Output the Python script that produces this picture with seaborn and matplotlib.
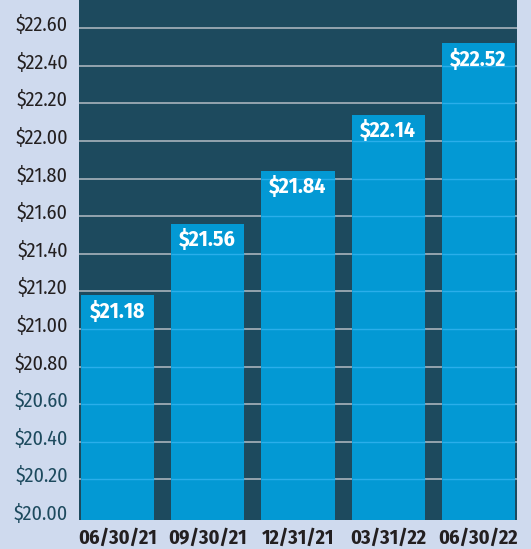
import matplotlib
matplotlib.use("Agg")
import matplotlib.pyplot as plt
import matplotlib.transforms as mtransforms
from matplotlib import font_manager as fm
import seaborn as sns
import pandas as pd

dates = ["06/30/21", "09/30/21", "12/31/21", "03/31/22", "06/30/22"]
values = [21.18, 21.56, 21.84, 22.14, 22.52]
bar_labels = ["$21.18", "$21.56", "$21.84", "$22.14", "$22.52"]
y_ticks = [20.00, 20.20, 20.40, 20.60, 20.80, 21.00, 21.20, 21.40, 21.60, 21.80, 22.00, 22.20, 22.40, 22.60]
y_tick_labels = ["$20.00", "$20.20", "$20.40", "$20.60", "$20.80", "$21.00", "$21.20",
                 "$21.40", "$21.60", "$21.80", "$22.00", "$22.20", "$22.40", "$22.60"]

OUTER = "#cfdaee"
PLOT_BG = "#1d4a5e"
BAR = "#0399d4"
DARK = "#231f20"

available = {f.name for f in fm.fontManager.ttflist}
FONT = "DejaVu Sans"
for cand in ["Fira Sans Condensed", "PT Sans Narrow", "Asap Condensed", "Barlow Semi Condensed"]:
    if cand in available:
        FONT = cand
        break

sns.set_theme(style="white")
plt.rcParams["font.family"] = [FONT, "DejaVu Sans"]

df = pd.DataFrame({"date": dates, "value": values})

fig = plt.figure(figsize=(5.31, 5.49), dpi=100, facecolor=OUTER)
ax = fig.add_axes([79 / 531, 29 / 549, 438 / 531, 520 / 549])
ax.set_facecolor(PLOT_BG)

sns.barplot(data=df, x="date", y="value", color=BAR, saturation=1, width=0.81,
            ax=ax, zorder=2, linewidth=0, edgecolor=BAR)

ax.set_ylim(19.984, 22.75)
ax.set_xlim(-0.426, 4.427)
ax.set_yticks(y_ticks)
ax.set_yticklabels(y_tick_labels)

# gridlines behind bars
for t in y_ticks[1:]:
    ax.axhline(t, color="#b4bcc4", lw=1.1, zorder=1)
# faint gridlines visible across the bars
for p in ax.patches:
    x0 = p.get_x()
    x1 = x0 + p.get_width()
    top = p.get_y() + p.get_height()
    for t in y_ticks[1:]:
        if t < top:
            ax.plot([x0, x1], [t, t], color="#2aaeea", lw=1.0, zorder=3, solid_capstyle="butt")

for s in ax.spines.values():
    s.set_visible(False)

ax.tick_params(axis="y", length=0, pad=8, labelsize=14.5)
ax.tick_params(axis="x", length=0, pad=6, labelsize=14.5)
for lbl in ax.get_xticklabels():
    lbl.set_fontweight("bold")
    lbl.set_color(DARK)

offset = mtransforms.ScaledTranslation(0, 5 / 100, fig.dpi_scale_trans)
for lbl, val in zip(ax.get_yticklabels(), y_ticks):
    lbl.set_transform(lbl.get_transform() + offset)
    lbl.set_color("#1d4a5e" if val <= 20.6 else DARK)

ax.set_xlabel("")
ax.set_ylabel("")

for i, (v, t) in enumerate(zip(values, bar_labels)):
    ax.annotate(t, xy=(i, v), xytext=(0, -3.5), textcoords="offset points",
                ha="center", va="top", color="white", fontsize=15.5,
                fontweight="bold", zorder=5)

fig.savefig("out.png", dpi=100, facecolor=OUTER)
